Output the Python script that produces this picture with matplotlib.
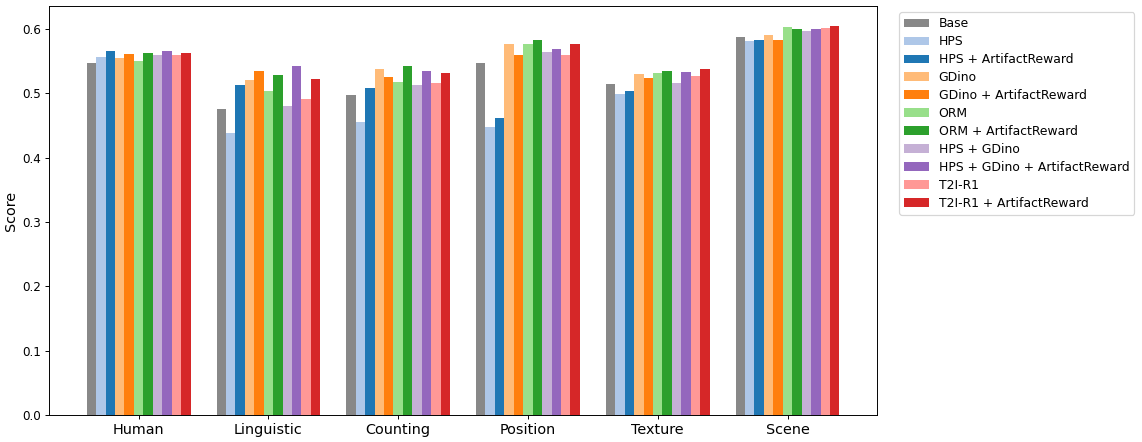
import numpy as np
import matplotlib
matplotlib.use('Agg')
import matplotlib.pyplot as plt

categories = ['Human', 'Linguistic', 'Counting', 'Position', 'Texture', 'Scene']
methods = ['Base', 'HPS', 'HPS + ArtifactReward', 'GDino', 'GDino + ArtifactReward',
           'ORM', 'ORM + ArtifactReward', 'HPS + GDino', 'HPS + GDino + ArtifactReward',
           'T2I-R1', 'T2I-R1 + ArtifactReward']
colors = ['#888888', '#aec7e8', '#1f77b4', '#ffbb78', '#ff7f0e',
          '#98df8a', '#2ca02c', '#c5b0d5', '#9467bd', '#ff9896', '#d62728']

# scores per method, one value per category
base = [0.547, 0.476, 0.498, 0.547, 0.515, 0.587]
hps = [0.556, 0.438, 0.455, 0.447, 0.499, 0.581]
hps_ar = [0.565, 0.513, 0.508, 0.462, 0.503, 0.583]
gdino = [0.555, 0.520, 0.538, 0.577, 0.530, 0.591]
gdino_ar = [0.561, 0.535, 0.525, 0.560, 0.523, 0.582]
orm = [0.550, 0.504, 0.518, 0.577, 0.532, 0.603]
orm_ar = [0.562, 0.528, 0.543, 0.583, 0.534, 0.600]
hps_gd = [0.559, 0.480, 0.513, 0.564, 0.516, 0.597]
hps_gd_ar = [0.566, 0.542, 0.535, 0.568, 0.533, 0.600]
t2i = [0.560, 0.491, 0.516, 0.560, 0.527, 0.602]
t2i_ar = [0.563, 0.522, 0.531, 0.577, 0.538, 0.605]

series = [base, hps, hps_ar, gdino, gdino_ar, orm, orm_ar, hps_gd, hps_gd_ar, t2i, t2i_ar]

dpi = 86.6
fig, ax = plt.subplots(figsize=(1142 / dpi, 442 / dpi), dpi=dpi)
fig.subplots_adjust(left=0.043, right=0.768, bottom=0.061, top=0.986)

x = np.arange(len(categories))
width = 0.8 / len(methods)
for i, (vals, name, c) in enumerate(zip(series, methods, colors)):
    ax.bar(x - 0.4 + width * (i + 0.5), vals, width, label=name, color=c)

ax.set_xticks(x)
ax.set_xticklabels(categories, fontsize=12)
ax.tick_params(axis='y', labelsize=10)
ax.set_ylabel('Score', fontsize=12, labelpad=3)
ax.legend(loc='upper left', bbox_to_anchor=(1.0266, 0.985), borderaxespad=0,
          fontsize=10.3, labelspacing=0.4)

plt.savefig('out.png', dpi=dpi)
